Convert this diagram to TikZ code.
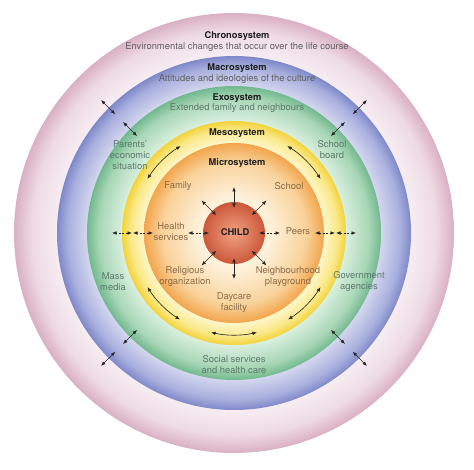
\documentclass[tikz,border=0pt]{standalone}
\usepackage{fontspec}
\setmainfont{TeX Gyre Heros}
\usetikzlibrary{arrows.meta,calc}
\definecolor{chin}{HTML}{F7EEF2}
\definecolor{chmid}{HTML}{EEDAE3}
\definecolor{chout}{HTML}{D9B0C4}
\definecolor{main}{HTML}{D3D6EE}
\definecolor{mamid}{HTML}{A9B0DE}
\definecolor{maout}{HTML}{7F89C9}
\definecolor{exin}{HTML}{DAF0E0}
\definecolor{exmid}{HTML}{A8D6B6}
\definecolor{exout}{HTML}{72B98E}
\definecolor{mein}{HTML}{FDF7CC}
\definecolor{memid}{HTML}{FAE98A}
\definecolor{meout}{HTML}{F3D23A}
\definecolor{miin}{HTML}{FEF1DA}
\definecolor{mimid}{HTML}{F9D29A}
\definecolor{miout}{HTML}{F2A54C}
\definecolor{chdin}{HTML}{F2A284}
\definecolor{chdout}{HTML}{CC583A}
\definecolor{titlec}{HTML}{1E1E1E}
\definecolor{subc}{HTML}{606060}
\definecolor{exoc}{HTML}{5C7A6C}
\definecolor{microc}{HTML}{8C6C48}
\pgfdeclareradialshading{chronoshade}{\pgfpoint{0bp}{0bp}}{color(0bp)=(chin); color(20bp)=(chin); color(23bp)=(chmid); color(25bp)=(chout); color(50bp)=(chout)}
\pgfdeclareradialshading{macroshade}{\pgfpoint{0bp}{0bp}}{color(0bp)=(main); color(20.8bp)=(main); color(23.5bp)=(mamid); color(25bp)=(maout); color(50bp)=(maout)}
\pgfdeclareradialshading{exoshade}{\pgfpoint{0bp}{0bp}}{color(0bp)=(exin); color(19bp)=(exin); color(23bp)=(exmid); color(25bp)=(exout); color(50bp)=(exout)}
\pgfdeclareradialshading{mesoshade}{\pgfpoint{0bp}{0bp}}{color(0bp)=(mein); color(20bp)=(mein); color(23bp)=(memid); color(25bp)=(meout); color(50bp)=(meout)}
\pgfdeclareradialshading{microshade}{\pgfpoint{0bp}{0bp}}{color(0bp)=(miin); color(10bp)=(miin); color(20bp)=(mimid); color(25bp)=(miout); color(50bp)=(miout)}
\pgfdeclareradialshading{childshade}{\pgfpoint{0bp}{0bp}}{color(0bp)=(chdin); color(25bp)=(chdout); color(50bp)=(chdout)}
\begin{document}
\begin{tikzpicture}[x=1pt,y=-1pt,
  title/.style={font=\bfseries\fontsize{9.3}{11}\selectfont, text=titlec, inner sep=0pt},
  sub/.style={font=\fontsize{9.4}{11}\selectfont, inner sep=0pt, align=center},
  dbl/.style={{Latex[length=4.5pt,width=3.6pt]}-{Latex[length=4.5pt,width=3.6pt]}, line width=0.65pt, draw=black!85},
  dbldash/.style={dbl, dash pattern=on 2pt off 1.5pt}]
\useasboundingbox (0,0) rectangle (474,470);
\fill[white] (0,0) rectangle (474,470);
\coordinate (c) at (234,233);
% rings
\shade[shading=chronoshade] (c) circle[radius=220];
\shade[shading=macroshade] (c) circle[radius=177];
\shade[shading=exoshade] (c) circle[radius=147];
\shade[shading=mesoshade] (c) circle[radius=112];
\shade[shading=microshade] (c) circle[radius=90];
\shade[shading=childshade] (c) circle[radius=31];
% titles
\node[title] (chrono) at (237,36) {Chronosystem};
\node[sub, text=subc] (chronotxt) at (237,47) {Environmental changes that occur over the life course};
\node[title] (macro) at (237,68) {Macrosystem};
\node[sub, text=subc] (macrotxt) at (237,79) {Attitudes and ideologies of the culture};
\node[title] (exo) at (237,98) {Exosystem};
\node[sub, text=exoc] (exotxt) at (237,108) {Extended family and neighbours};
\node[title] (meso) at (237,133) {Mesosystem};
\node[title] (micro) at (237,163) {Microsystem};
\node[title] (child) at (235,232) {CHILD};
% exosystem items
\node[sub, text=exoc] (parents) at (130,155) {Parents'\\economic\\situation};
\node[sub, text=exoc] (board) at (332,150) {School\\board};
\node[sub, text=exoc] (mass) at (113,282) {Mass\\media};
\node[sub, text=exoc] (gov) at (359,282) {Government\\agencies};
\node[sub, text=exoc] (social) at (234,365) {Social services\\and health care};
% microsystem items
\node[sub, text=microc] (family) at (178,186) {Family};
\node[sub, text=microc] (school) at (289,186) {School};
\node[sub, text=microc] (health) at (171,232) {Health\\services};
\node[sub, text=microc] (peers) at (298,231) {Peers};
\node[sub, text=microc] (relig) at (185,277) {Religious\\organization};
\node[sub, text=microc] (neigh) at (288,277) {Neighbourhood\\playground};
\node[sub, text=microc] (daycare) at (234,303) {Daycare\\facility};
% child radial arrows
\foreach \a in {45,90,135,225,270,315}{
  \coordinate (ci\a) at ($(c)+(\a:25)$);
  \coordinate (co\a) at ($(c)+(\a:46)$);
  \draw[dbl] (ci\a) -- (co\a);
}
\foreach \a in {0,180}{
  \coordinate (ci\a) at ($(c)+(\a:25)$);
  \coordinate (co\a) at ($(c)+(\a:46)$);
  \draw[dbldash] (ci\a) -- (co\a);
}
% horizontal boundary arrows
\foreach \a in {0,180}{
  \foreach \r in {91,112}{
    \coordinate (hi\a-\r) at ($(c)+(\a:\r-10)$);
    \coordinate (ho\a-\r) at ($(c)+(\a:\r+10)$);
    \draw[dbldash] (hi\a-\r) -- (ho\a-\r);
  }
}
% diagonal boundary arrows
\foreach \a in {45,135,225,315}{
  \foreach \r in {147,178}{
    \coordinate (di\a-\r) at ($(c)+(\a:\r-10)$);
    \coordinate (do\a-\r) at ($(c)+(\a:\r+10)$);
    \draw[dbl] (di\a-\r) -- (do\a-\r);
  }
}
% curved arrows in the mesosystem ring
\foreach \s/\e [count=\i] in {-121.5/-148, -58.5/-32, 148/122, 32/58, 103/77}{
  \coordinate (arc\i) at ($(c)+(\s:102)$);
  \draw[dbl] (arc\i) arc[start angle=\s, end angle=\e, radius=102];
}
\end{tikzpicture}
\end{document}
